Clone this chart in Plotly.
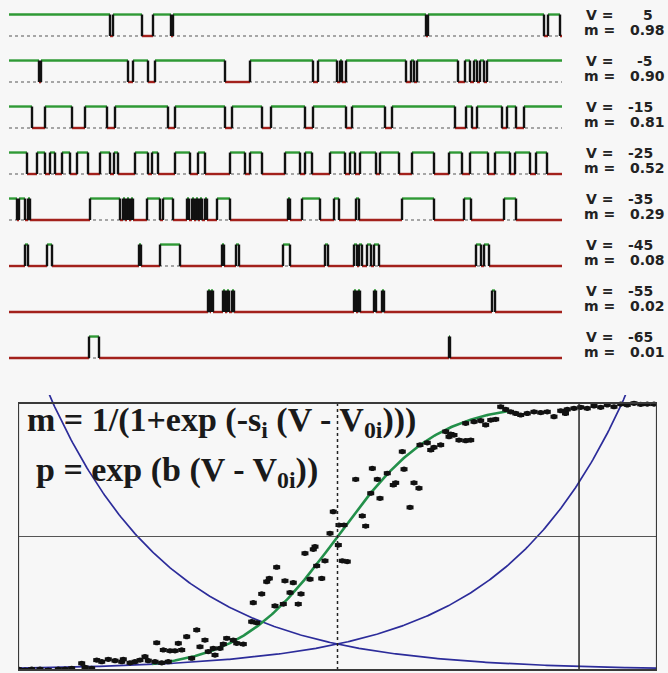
import plotly.graph_objects as go
import numpy as np

# ---------------- top panel: single-channel records ----------------
trace_V = ["5", "-5", "-15", "-25", "-35", "-45", "-55", "-65"]
trace_m = ["0.98", "0.90", "0.81", "0.52", "0.29", "0.08", "0.02", "0.01"]
record_ms = 553          # record length (ms)
open_level = 0.467       # open-state current (relative units, trace spacing = 1)

# open intervals [start, end] in ms for each record
open_5 = [[0, 101], [104, 133], [144, 162], [164, 417], [419, 535], [539, 551]]
open_m5 = [[0, 30], [32, 119], [124, 139], [146, 216], [241, 304], [309, 328],
           [331, 333], [337, 397], [402, 405], [408, 449], [456, 461], [465, 468],
           [471, 475], [478, 553]]
open_m15 = [[0, 23], [36, 63], [76, 98], [106, 159], [166, 216], [223, 253],
            [262, 296], [304, 337], [343, 376], [383, 446], [457, 463], [468, 493],
            [498, 507], [515, 553]]
open_m25 = [[0, 18], [28, 36], [41, 46], [53, 61], [68, 79], [91, 101], [105, 109],
            [126, 139], [143, 149], [166, 181], [189, 196], [221, 236], [241, 253],
            [276, 291], [296, 303], [321, 336], [341, 346], [351, 367], [371, 390],
            [403, 425], [440, 453], [461, 479], [486, 501], [506, 521], [527, 538]]
open_m35 = [[0, 8], [10, 16], [19, 21], [81, 111], [114, 116], [118, 120], [122, 124],
            [138, 151], [154, 164], [178, 180], [183, 185], [187, 189], [191, 193],
            [196, 198], [208, 221], [279, 281], [293, 311], [325, 330], [347, 350],
            [393, 425], [455, 462], [495, 507]]
open_m45 = [[16, 19], [38, 43], [130, 132], [151, 171], [213, 215], [227, 230],
            [274, 281], [316, 319], [345, 348], [350, 353], [358, 362], [365, 370],
            [467, 472], [475, 480]]
open_m55 = [[199, 201], [202, 204], [214, 216], [218, 220], [223, 225], [345, 347],
            [349, 351], [365, 367], [373, 375], [483, 486]]
open_m65 = [[80, 90], [440, 441]]
records = [open_5, open_m5, open_m15, open_m25, open_m35, open_m45, open_m55, open_m65]

# ---------------- bottom panel: activation curve ----------------
V_pts = [0.05, 1.1, 2.14, 3.44, 4.74, 6.31, 7.36, 8.40, 9.97, 10.49, 11.53, 12.32, 13.10,
         14.13, 15.18, 16.23, 16.48, 17.53, 18.31, 19.09, 19.87, 20.39, 21.44, 22.49, 23.52,
         21.71, 22.74, 23.79, 24.57, 25.09, 25.62, 26.40, 27.97, 27.18, 28.48, 29.26, 29.78,
         30.56, 30.83, 31.61, 32.13, 32.66, 33.69, 34.23, 35.26, 36.57, 37.35, 36.82, 38.14,
         40.22, 41.52, 42.57, 43.86, 44.29, 38.92, 39.33, 40.48, 41.78, 43.08, 44.91, 46.21,
         45.70, 47.53, 46.74, 48.04, 48.83, 49.34, 46.48, 50.13, 50.23, 51.02, 54.41, 50.75,
         51.53, 53.88, 52.85, 55.45, 56.23, 57.79, 59.11, 58.73, 60.41, 61.97, 62.75, 55.20,
         56.65, 61.35, 60.14, 62.91, 64.05, 65.10, 66.15, 64.59, 67.45, 68.23, 69.01, 70.06,
         70.85, 66.93, 67.71, 70.06, 71.36, 72.41, 73.19, 73.98, 74.76, 75.54, 76.32, 77.10,
         77.89, 78.67, 79.70, 80.75, 81.80, 82.83, 83.88, 84.93, 85.96, 87.01, 85.68, 88.06,
         89.09, 90.14, 91.19, 92.22, 93.27, 94.32, 95.35, 96.40, 97.45, 98.48, 99.53]
m_pts = [0.003, 0.0, 0.003, 0.003, 0.0, 0.003, 0.003, 0.006, 0.025, 0.010, 0.006, 0.037, 0.031,
         0.040, 0.035, 0.031, 0.040, 0.027, 0.031, 0.037, 0.050, 0.035, 0.031, 0.027, 0.031,
         0.102, 0.075, 0.072, 0.072, 0.100, 0.075, 0.125, 0.150, 0.044, 0.087, 0.112, 0.069,
         0.081, 0.056, 0.081, 0.097, 0.119, 0.112, 0.100, 0.097, 0.181, 0.177, 0.252, 0.285,
         0.240, 0.247, 0.290, 0.247, 0.285, 0.331, 0.343, 0.385, 0.334, 0.327, 0.437, 0.452,
         0.340, 0.343, 0.390, 0.409, 0.512, 0.593, 0.462, 0.468, 0.543, 0.543, 0.539, 0.409,
         0.406, 0.577, 0.714, 0.755, 0.714, 0.737, 0.701, 0.693, 0.752, 0.701, 0.681, 0.662,
         0.643, 0.609, 0.818, 0.843, 0.851, 0.834, 0.843, 0.824, 0.874, 0.880, 0.861, 0.859,
         0.861, 0.893, 0.884, 0.924, 0.930, 0.934, 0.918, 0.936, 0.939, 0.986, 0.976, 0.967,
         0.961, 0.955, 0.961, 0.967, 0.964, 0.967, 0.949, 0.971, 0.976, 0.980, 0.961, 0.984,
         0.980, 0.989, 0.984, 0.993, 0.986, 0.996, 0.993, 0.999, 0.995, 0.996, 0.996]
V0i = 50.0        # half-activation voltage (axis units)
s_i = 0.13        # slope of the Boltzmann fit
b = 0.0524        # exponential coefficient
p0 = 0.097        # value of the exponentials at V0i
fit_range = [21, 77]
V_solid = 87.8

fig = go.Figure()

# ---- records ----
for k, opens in enumerate(records):
    base = -k
    top = base + open_level
    fig.add_trace(go.Scatter(x=[0, record_ms], y=[base, base], mode="lines",
                             line=dict(color="#8c8c8c", width=1.4, dash="dot"),
                             xaxis="x2", yaxis="y2", hoverinfo="skip", showlegend=False))
    closed = []
    t = 0
    for a, e in opens:
        if a > t:
            closed.append([t, a])
        t = e
    if t < record_ms:
        closed.append([t, record_ms])
    rx, ry = [], []
    for a, e in closed:
        rx += [a, e, None]
        ry += [base, base, None]
    gx, gy = [], []
    for a, e in opens:
        gx += [a, e, None]
        gy += [top, top, None]
    bx, by = [], []
    for a, e in opens:
        for edge in (a, e):
            if 0 < edge < record_ms:
                bx += [edge, edge, None]
                by += [base, top, None]
    fig.add_trace(go.Scatter(x=rx, y=ry, mode="lines", line=dict(color="#a3211c", width=2.4),
                             xaxis="x2", yaxis="y2", hoverinfo="skip", showlegend=False))
    fig.add_trace(go.Scatter(x=gx, y=gy, mode="lines", line=dict(color="#2f9a35", width=2.4),
                             xaxis="x2", yaxis="y2", hoverinfo="skip", showlegend=False))
    fig.add_trace(go.Scatter(x=bx, y=by, mode="lines", line=dict(color="#111111", width=2.4),
                             xaxis="x2", yaxis="y2", hoverinfo="skip", showlegend=False))

# ---- activation panel ----
Vc = np.linspace(0, 100, 400)
fig.add_trace(go.Scatter(x=Vc, y=p0 * np.exp(-b * (Vc - V0i)), mode="lines",
                         line=dict(color="#2c2c9a", width=1.7), showlegend=False))
fig.add_trace(go.Scatter(x=Vc, y=p0 * np.exp(b * (Vc - V0i)), mode="lines",
                         line=dict(color="#2c2c9a", width=1.7), showlegend=False))
Vf = np.linspace(fit_range[0], fit_range[1], 300)
fig.add_trace(go.Scatter(x=Vf, y=1 / (1 + np.exp(-s_i * (Vf - V0i))), mode="lines",
                         line=dict(color="#23904a", width=2.6), showlegend=False))
fig.add_trace(go.Scatter(x=V_pts, y=m_pts, mode="markers",
                         marker=dict(symbol="circle", size=5.2, color="#111111",
                                     line=dict(width=0)),
                         showlegend=False))
fig.add_trace(go.Scatter(x=V_pts, y=m_pts, mode="markers",
                         marker=dict(symbol="line-ew", size=5,
                                     line=dict(width=4, color="#111111")),
                         showlegend=False))

shapes = [
    dict(type="line", xref="x", yref="y", x0=0, x1=100, y0=0.5, y1=0.5,
         line=dict(color="#555555", width=1.2)),
    dict(type="line", xref="x", yref="y", x0=V0i, x1=V0i, y0=0, y1=1,
         line=dict(color="#222222", width=1.5, dash="dot")),
    dict(type="line", xref="x", yref="y", x0=V_solid, x1=V_solid, y0=0, y1=1,
         line=dict(color="#222222", width=1.5)),
    dict(type="rect", xref="x", yref="y", x0=0, x1=100, y0=0, y1=1,
         line=dict(color="#3a3a3a", width=2.2)),
]

annotations = []
label_font = dict(family="DejaVu Sans", size=14, color="#222222", weight="bold")
for k in range(8):
    annotations.append(dict(xref="x2", yref="y2", x=575, y=-k + 0.45, text="V =",
                            showarrow=False, xanchor="left", yanchor="middle", font=label_font))
    annotations.append(dict(xref="x2", yref="y2", x=646, y=-k + 0.45, text=trace_V[k],
                            showarrow=False, xanchor="right", yanchor="middle", font=label_font))
    annotations.append(dict(xref="x2", yref="y2", x=573, y=-k + 0.13, text="m =",
                            showarrow=False, xanchor="left", yanchor="middle", font=label_font))
    annotations.append(dict(xref="x2", yref="y2", x=658, y=-k + 0.13, text=trace_m[k],
                            showarrow=False, xanchor="right", yanchor="middle", font=label_font))

formula_font = dict(family="Liberation Serif", size=34, color="#1a1a1a")
annotations.append(dict(xref="paper", yref="paper", x=25 / 668, y=(673 - 422) / 673,
                        text="<b>m = 1/(1+exp (-s<sub>i</sub> (V - V<sub>0i</sub>)))</b>",
                        showarrow=False, xanchor="left", yanchor="middle", font=formula_font))
annotations.append(dict(xref="paper", yref="paper", x=34 / 668, y=(673 - 472) / 673,
                        text="<b>p = exp (b (V - V<sub>0i</sub>))</b>",
                        showarrow=False, xanchor="left", yanchor="middle", font=formula_font))

fig.update_layout(
    width=668, height=673,
    margin=dict(l=0, r=0, t=0, b=0),
    paper_bgcolor="#f7f7f7", plot_bgcolor="#f7f7f7",
    showlegend=False,
    xaxis=dict(domain=[18 / 668, 657 / 668], range=[0, 100], visible=False),
    yaxis=dict(domain=[2 / 673, 278 / 673], range=[-0.00375, 1.03], visible=False),
    xaxis2=dict(domain=[0, 1], range=[-9, 659], visible=False, anchor="y2"),
    yaxis2=dict(domain=[293 / 673, 1], range=[-7.478, 0.7826], visible=False, anchor="x2"),
    shapes=shapes,
    annotations=annotations,
)

fig.write_html("out.html", config={"displayModeBar": False},
               post_script="document.body.style.margin='0px';"
                           "document.body.style.background='#f7f7f7';")
